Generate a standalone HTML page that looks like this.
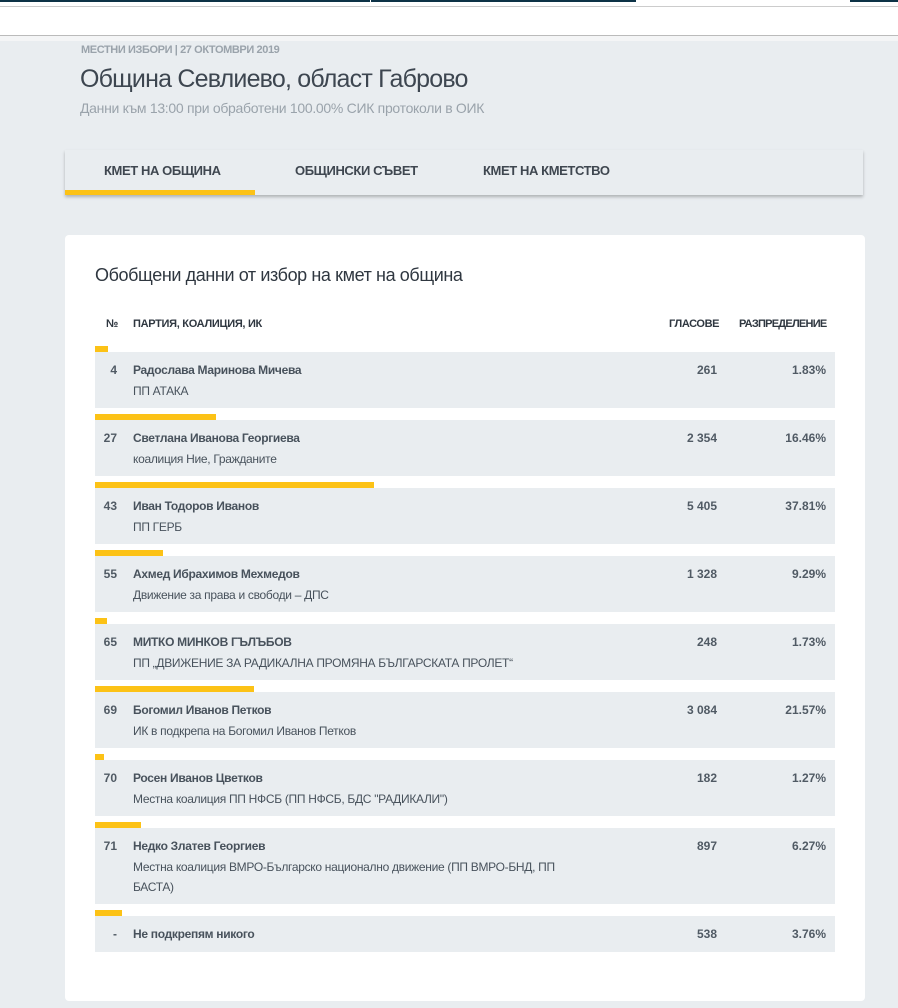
<!DOCTYPE html>
<html><head><meta charset="utf-8"><style>
*{margin:0;padding:0;box-sizing:border-box}
body{width:898px;height:1008px;background:#e9edf0;font-family:"Liberation Sans","Noto Sans CJK SC",sans-serif;color:#3f4750;position:relative;overflow:hidden}
.abs{position:absolute}
.bar{position:absolute;left:95px;height:6px;background:#fcc216}
.row{position:absolute;left:95px;width:740px;background:#e9edf0;font-size:12px}
.row .n{position:absolute;right:718px;top:11px;font-weight:bold;color:#505a64}
.row .nm{position:absolute;left:38px;top:11px;font-weight:bold;color:#48525c;letter-spacing:-0.3px}
.row .sub{position:absolute;left:38px;top:29px;color:#48525c;letter-spacing:-0.3px;width:455px;line-height:20px}
.row .v{position:absolute;right:118px;top:11px;font-weight:bold;color:#505a64}
.row .p{position:absolute;right:9px;top:11px;font-weight:bold;color:#505a64}
</style></head><body>
<div class="abs" style="left:0;top:0;width:898px;height:37px;background:#fff"></div>
<div class="abs" style="left:0;top:0;width:370px;height:2px;background:#0d3347"></div>
<div class="abs" style="left:371px;top:0;width:265px;height:2px;background:#0d3347"></div>
<div class="abs" style="left:850px;top:0;width:48px;height:2px;background:#0d3347"></div>
<div class="abs" style="left:0;top:6px;width:898px;height:1px;background:#ccc"></div>
<div class="abs" style="left:0;top:35px;width:898px;height:1px;background:#bbb"></div>
<div class="abs" style="left:0;top:36px;width:898px;height:5px;background:#f4f5f6"></div>
<div class="abs" style="left:81px;top:44px;font-size:11px;font-weight:bold;color:#9aa3ab;letter-spacing:-0.4px">МЕСТНИ ИЗБОРИ | 27 ОКТОМВРИ 2019</div>
<div class="abs" style="left:80px;top:65px;font-size:25px;color:#3d4650;letter-spacing:-0.8px">Община Севлиево, област Габрово</div>
<div class="abs" style="left:80px;top:100px;font-size:14px;color:#9aa3ab;letter-spacing:-0.3px">Данни към 13:00 при обработени 100.00% СИК протоколи в ОИК</div>
<div class="abs" style="left:65px;top:150px;width:798px;height:45px;background:#e9edf0;box-shadow:0 2px 3px rgba(0,0,0,.25)"></div>
<div class="abs" style="left:104px;top:163px;font-size:13px;font-weight:bold;color:#3f4750;letter-spacing:-0.4px">КМЕТ НА ОБЩИНА</div>
<div class="abs" style="left:295px;top:163px;font-size:13px;font-weight:bold;color:#3f4750;letter-spacing:-0.4px">ОБЩИНСКИ СЪВЕТ</div>
<div class="abs" style="left:483px;top:163px;font-size:13px;font-weight:bold;color:#3f4750;letter-spacing:-0.4px">КМЕТ НА КМЕТСТВО</div>
<div class="abs" style="left:65px;top:190px;width:190px;height:5px;background:#fcc216"></div>
<div class="abs" style="left:65px;top:235px;width:800px;height:766px;background:#fff;border-radius:4px"></div>
<div class="abs" style="left:95px;top:265px;font-size:18px;color:#2f3740;letter-spacing:-0.4px">Обобщени данни от избор на кмет на община</div>
<div class="abs" style="left:106px;top:318px;font-size:11px;font-weight:bold;color:#2f3740">№</div>
<div class="abs" style="left:133px;top:318px;font-size:11px;font-weight:bold;color:#2f3740;letter-spacing:-0.3px">ПАРТИЯ, КОАЛИЦИЯ, ИК</div>
<div class="abs" style="left:669px;top:318px;font-size:11px;font-weight:bold;color:#2f3740;letter-spacing:-0.4px">ГЛАСОВЕ</div>
<div class="abs" style="left:739px;top:318px;font-size:11px;font-weight:bold;color:#2f3740;letter-spacing:-0.75px">РАЗПРЕДЕЛЕНИЕ</div>

<div class="bar" style="top:346px;width:13px"></div>
<div class="row" style="top:352px;height:56px"><span class="n">4</span><span class="nm">Радослава Маринова Мичева</span><span class="sub">ПП АТАКА</span><span class="v">261</span><span class="p">1.83%</span></div>
<div class="bar" style="top:414px;width:121px"></div>
<div class="row" style="top:420px;height:56px"><span class="n">27</span><span class="nm">Светлана Иванова Георгиева</span><span class="sub">коалиция Ние, Гражданите</span><span class="v">2 354</span><span class="p">16.46%</span></div>
<div class="bar" style="top:482px;width:279px"></div>
<div class="row" style="top:488px;height:56px"><span class="n">43</span><span class="nm">Иван Тодоров Иванов</span><span class="sub">ПП ГЕРБ</span><span class="v">5 405</span><span class="p">37.81%</span></div>
<div class="bar" style="top:550px;width:68px"></div>
<div class="row" style="top:556px;height:56px"><span class="n">55</span><span class="nm">Ахмед Ибрахимов Мехмедов</span><span class="sub">Движение за права и свободи – ДПС</span><span class="v">1 328</span><span class="p">9.29%</span></div>
<div class="bar" style="top:618px;width:12px"></div>
<div class="row" style="top:624px;height:56px"><span class="n">65</span><span class="nm">МИТКО МИНКОВ ГЪЛЪБОВ</span><span class="sub">ПП „ДВИЖЕНИЕ ЗА РАДИКАЛНА ПРОМЯНА БЪЛГАРСКАТА ПРОЛЕТ“</span><span class="v">248</span><span class="p">1.73%</span></div>
<div class="bar" style="top:686px;width:159px"></div>
<div class="row" style="top:692px;height:56px"><span class="n">69</span><span class="nm">Богомил Иванов Петков</span><span class="sub">ИК в подкрепа на Богомил Иванов Петков</span><span class="v">3 084</span><span class="p">21.57%</span></div>
<div class="bar" style="top:754px;width:9px"></div>
<div class="row" style="top:760px;height:56px"><span class="n">70</span><span class="nm">Росен Иванов Цветков</span><span class="sub">Местна коалиция ПП НФСБ (ПП НФСБ, БДС "РАДИКАЛИ")</span><span class="v">182</span><span class="p">1.27%</span></div>
<div class="bar" style="top:822px;width:46px"></div>
<div class="row" style="top:828px;height:76px"><span class="n">71</span><span class="nm">Недко Златев Георгиев</span><span class="sub">Местна коалиция ВМРО-Българско национално движение (ПП ВМРО-БНД, ПП<br>БАСТА)</span><span class="v">897</span><span class="p">6.27%</span></div>
<div class="bar" style="top:910px;width:27px"></div>
<div class="row" style="top:916px;height:36px"><span class="n">-</span><span class="nm">Не подкрепям никого</span><span class="v">538</span><span class="p">3.76%</span></div>
</body></html>
